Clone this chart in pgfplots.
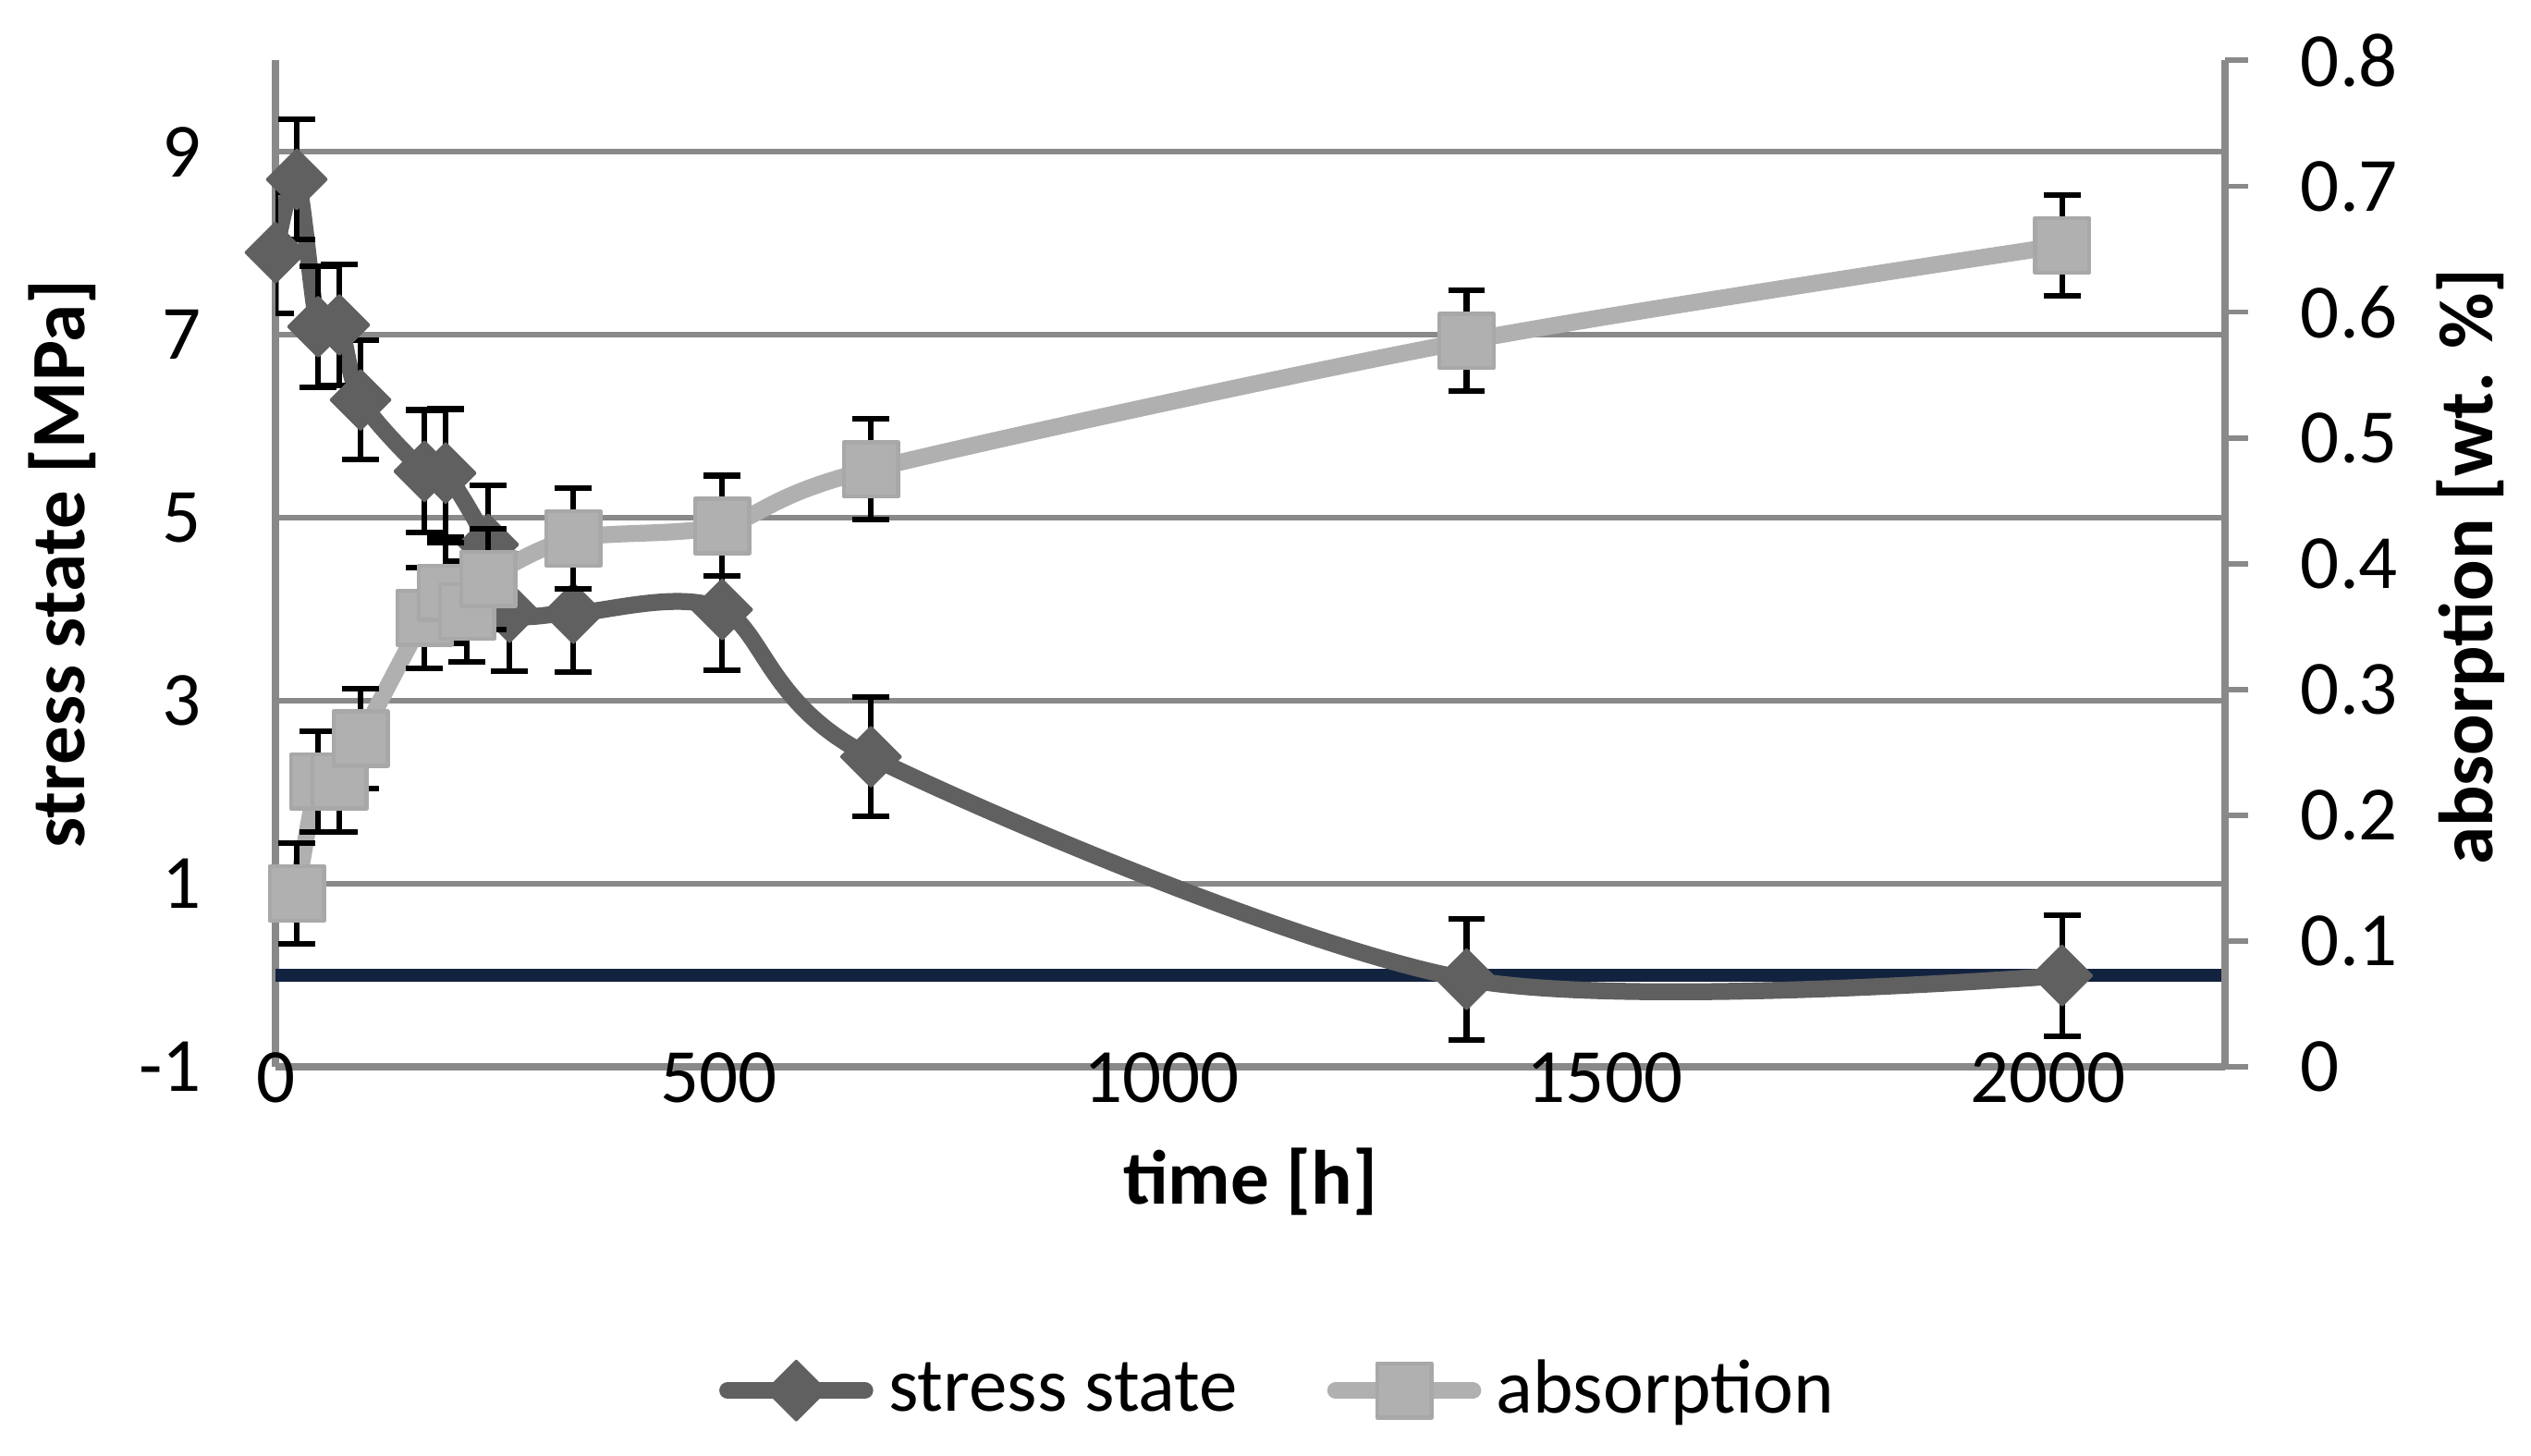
\documentclass[border=0pt]{standalone}
\usepackage{fontspec}
\setmainfont{Carlito}
\usepackage{pgfplots}
\pgfplotsset{compat=1.18}
\definecolor{stressgray}{HTML}{606060}
\definecolor{absgray}{HTML}{B0B0B0}
\definecolor{absedge}{HTML}{A8A8A8}
\definecolor{gridgray}{HTML}{898989}
\definecolor{zeronavy}{HTML}{12233F}

\pgfplotsset{
  twin/.style={
    scale only axis, width=13.395cm, height=6.916cm,
    at={(0,0)}, anchor=south west,
    xmin=0, xmax=2200,
    /pgf/number format/assume math mode=true,
    /pgf/number format/1000 sep={},
    tick label style={font=\fontsize{15}{18}\selectfont},
    axis line style={draw=gridgray, line width=1.4pt},
  },
  stressline/.style={stressgray, line width=3.3pt, smooth, line cap=round, line join=round,
    mark=square*, mark size=4.1pt,
    mark options={rotate=45, fill=stressgray, draw=stressgray, line width=0.5pt, solid}},
  absline/.style={absgray, line width=3.3pt, smooth, line cap=round, line join=round,
    mark=square*, mark size=5.3pt,
    mark options={fill=absgray, draw=absedge, line width=0.8pt, solid}},
}

\begin{document}
\begin{tikzpicture}
\useasboundingbox (-1.893cm,-2.666cm) rectangle (15.497cm,7.331cm);

% left axis: stress state
\begin{axis}[twin,
  ymin=-1, ymax=10,
  ytick={-1,1,3,5,7,9},
  xtick={0,500,1000,1500,2000},
  axis x line*=bottom, axis y line*=left,
  ymajorgrids, grid style={draw=gridgray, line width=1.05pt},
  major tick length=0pt,
  xticklabel style={anchor=north, inner sep=0pt, yshift=3pt},
  yticklabel style={anchor=east, inner sep=0pt, xshift=-14.3pt},
  xlabel={time [h]}, ylabel={stress state [MPa]},
  every axis x label/.style={at={(axis description cs:0.5,-0.1136)}, anchor=center,
    font=\fontsize{15}{18}\selectfont\bfseries},
  every axis y label/.style={at={(axis description cs:-0.1095,0.5)}, anchor=center, rotate=90,
    font=\fontsize{15}{18}\selectfont\bfseries},
]
\addplot[forget plot, draw=zeronavy, line width=2.5pt] coordinates {(0,0) (2200,0)};
\addplot[stressline,
  error bars/.cd, y dir=both, y explicit,
  error bar style={black, line width=1.1pt, line cap=butt},
  error mark options={black, line width=1.1pt, mark size=3.6pt, rotate=90}]
  coordinates {
  (0,7.90) +- (0,0.66)
  (24,8.70) +- (0,0.66)
  (48,7.09) +- (0,0.66)
  (72,7.11) +- (0,0.66)
  (96,6.29) +- (0,0.65)
  (168,5.51) +- (0,0.67)
  (192,5.49) +- (0,0.70)
  (240,4.71) +- (0,0.65)
  (264,3.97) +- (0,0.64)
  (336,3.96) +- (0,0.64)
  (504,4.00) +- (0,0.66)
  (672,2.39) +- (0,0.65)
  (1344,-0.04) +- (0,0.66)
  (2016,0.00) +- (0,0.66)
  };
\end{axis}

% right axis: absorption
\begin{axis}[twin,
  ymin=0, ymax=0.8,
  ytick={0,0.1,0.2,0.3,0.4,0.5,0.6,0.7,0.8},
  axis x line=none, axis y line*=right,
  tick align=outside, major tick length=4.5pt,
  tick style={draw=gridgray, line width=1.05pt},
  yticklabel style={anchor=west, inner sep=0pt, xshift=10.1pt},
  ylabel={absorption [wt. \%]},
  every axis y label/.style={at={(axis description cs:1.1261,0.497)}, anchor=center, rotate=90,
    font=\fontsize{15}{18}\selectfont\bfseries},
  legend columns=2,
  legend style={at={(0.5135,-0.3214)}, anchor=center, draw=none, fill=none,
    font=\fontsize{15}{18}\selectfont, inner sep=0pt,
    nodes={inner sep=0pt},
    /tikz/every odd column/.append style={column sep=3pt},
    /tikz/every even column/.append style={column sep=17.5pt}},
  legend image code/.code={
    \draw[mark repeat=2, mark phase=2, #1] plot coordinates {(1.6pt,0pt) (15pt,0pt) (28.4pt,0pt)};
  },
]
\addlegendimage{stressline}
\addlegendentry{stress state}
\addplot[absline,
  error bars/.cd, y dir=both, y explicit,
  error bar style={black, line width=1.1pt, line cap=butt},
  error mark options={black, line width=1.1pt, mark size=3.6pt, rotate=90}]
  coordinates {
  (24,0.138) +- (0,0.04)
  (48,0.227) +- (0,0.04)
  (72,0.227) +- (0,0.04)
  (96,0.261) +- (0,0.04)
  (168,0.357) +- (0,0.04)
  (192,0.377) +- (0,0.04)
  (216,0.362) +- (0,0.04)
  (240,0.388) +- (0,0.04)
  (336,0.420) +- (0,0.04)
  (504,0.430) +- (0,0.04)
  (672,0.475) +- (0,0.04)
  (1344,0.577) +- (0,0.04)
  (2016,0.653) +- (0,0.04)
  };
\addlegendentry{absorption}
\end{axis}
\end{tikzpicture}
\end{document}
